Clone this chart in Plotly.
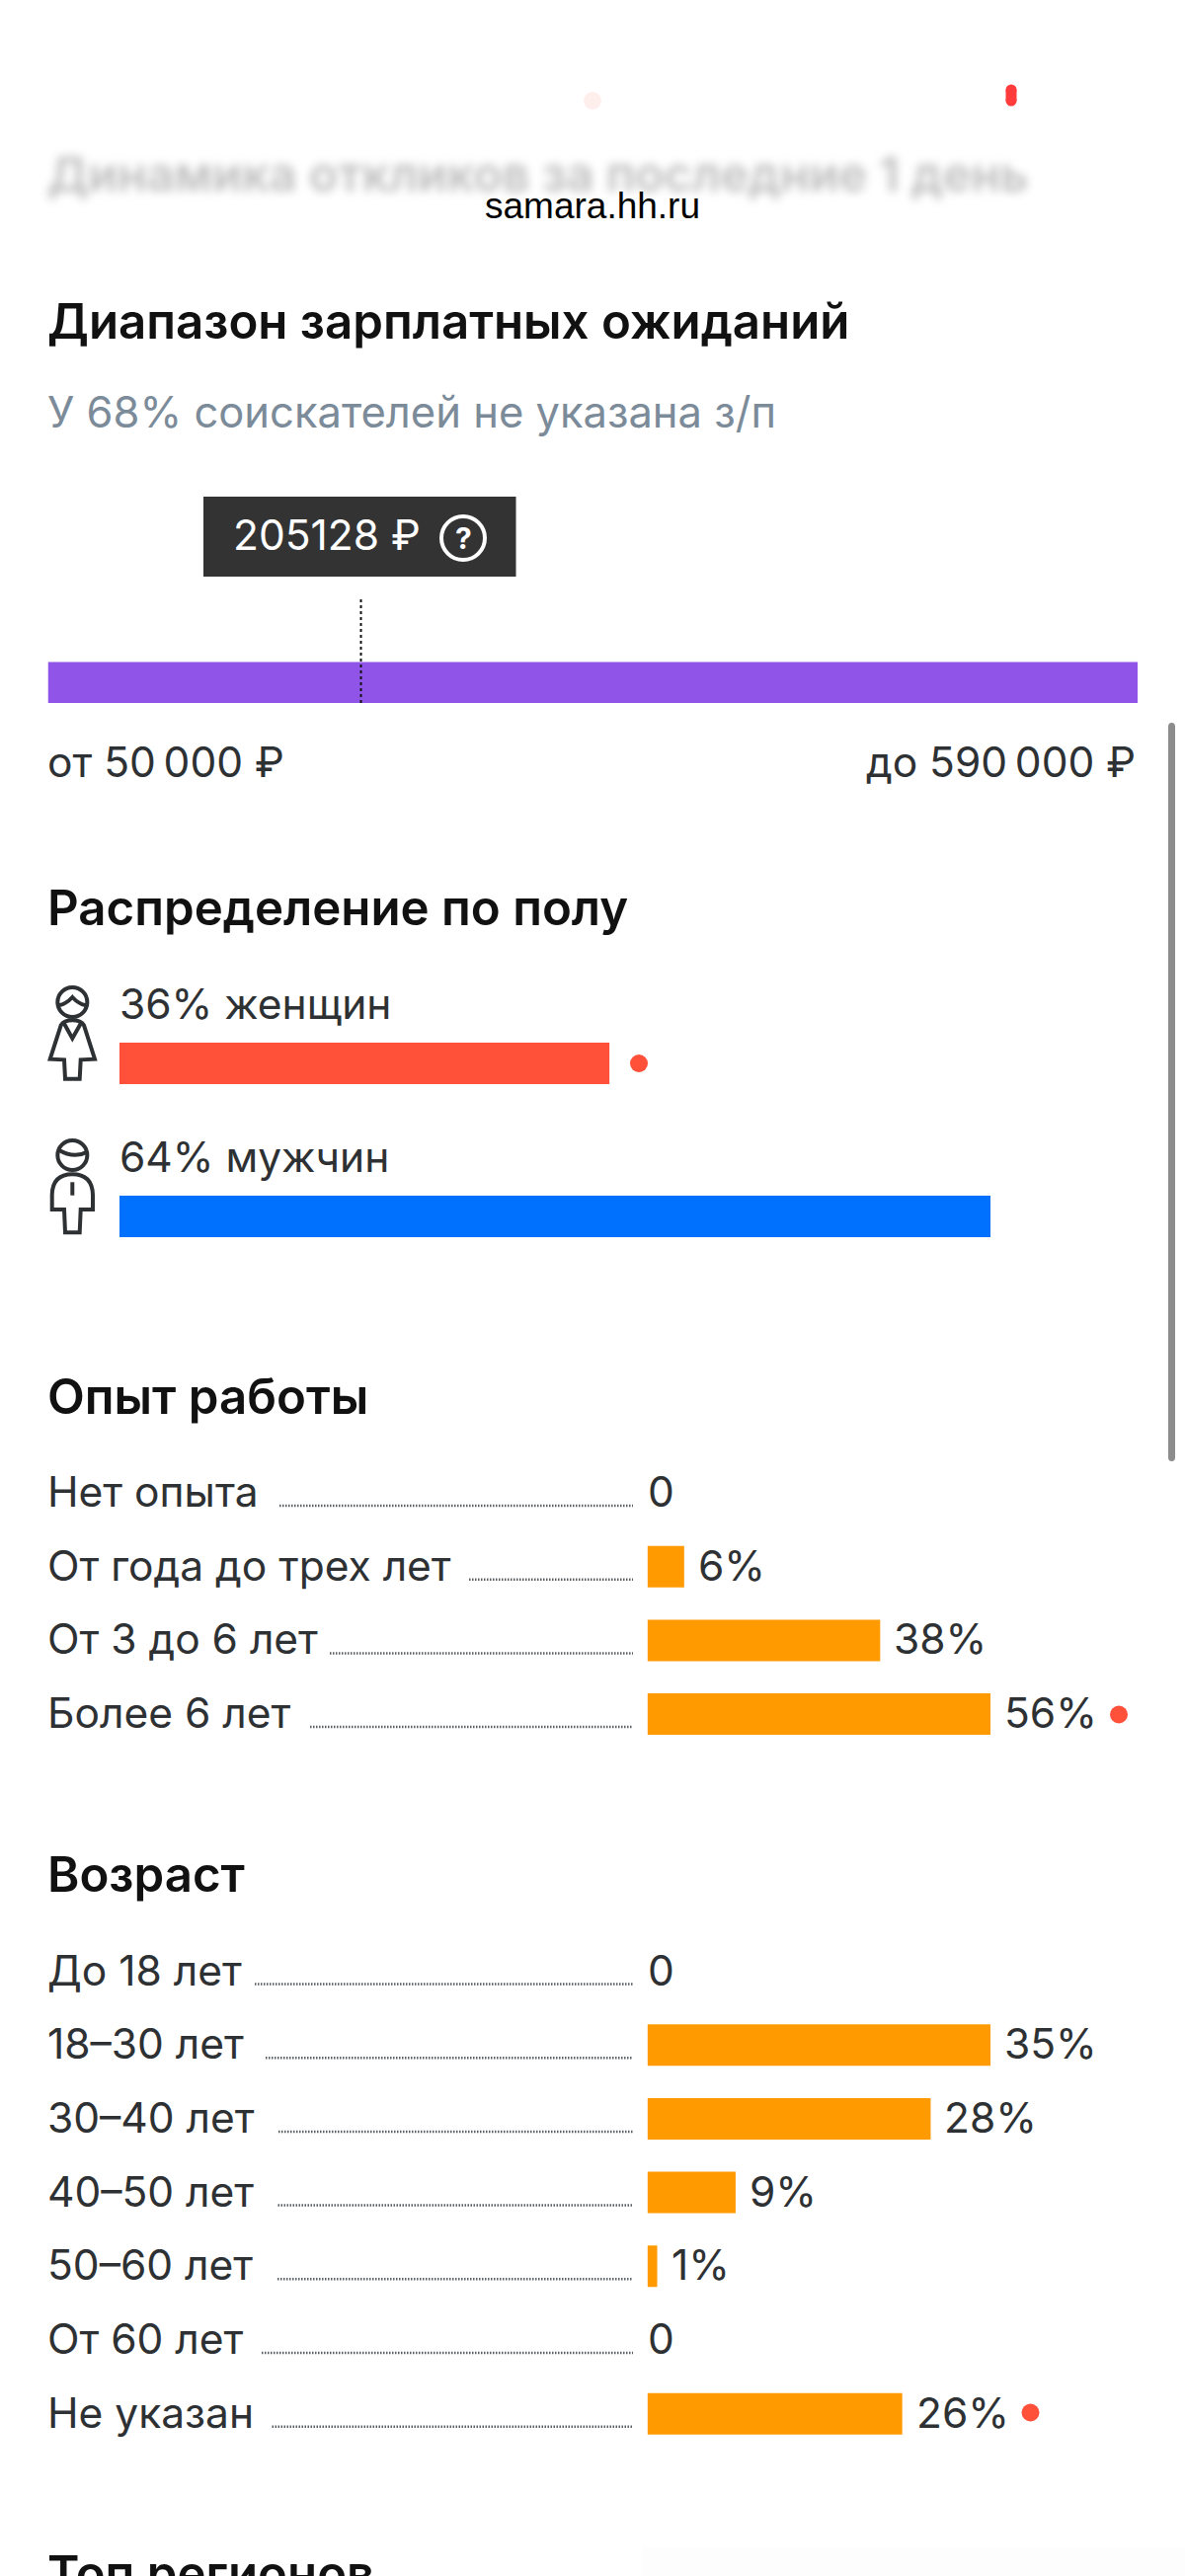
import plotly.graph_objects as go

# ---------- data ----------
salary_min = 50000
salary_max = 590000
salary_mean = 205128

gender_labels = ["36% женщин", "64% мужчин"]
gender_values = [36, 64]

exp_categories = ["Нет опыта", "От года до трех лет", "От 3 до 6 лет", "Более 6 лет"]
exp_values = [0, 6, 38, 56]
exp_value_labels = ["0", "6%", "38%", "56%"]

age_categories = ["До 18 лет", "18–30 лет", "30–40 лет", "40–50 лет", "50–60 лет", "От 60 лет", "Не указан"]
age_values = [0, 35, 28.9, 9, 1, 0, 26]
age_value_labels = ["0", "35%", "28%", "9%", "1%", "0", "26%"]

# ---------- style / layout ----------
W, H = 1200, 2609
FONT = "Inter"
INK = "#2E3133"
ORANGE = "#FF9A00"
RED = "#FF5039"
BLUE = "#0070FF"
PURPLE = "#9055E8"
LEFT = 47
TITLE_SIZE = 49.2
TITLE_WEIGHT = 600
BODY_SIZE = 42.5
ROW_H = 74.7
BAR_H = 42
BAR_START = 655.6
BAR_END = 1003
LEADER_END = 641

exp_leader_starts = [283, 475, 334, 314]
age_leader_starts = [258, 269, 282, 281.5, 281, 265, 275.5]


def dom_x(a, b):
    return [a / W, b / W]


def dom_y(top, bottom):
    return [1 - bottom / H, 1 - top / H]


fig = go.Figure()
ann = []
shapes = []


def text(x, y, s, size=BODY_SIZE, color=INK, weight=400, anchor="left", family=FONT, yanchor="middle"):
    ann.append(dict(x=x, y=y, xref="x", yref="y", text=s, showarrow=False, xanchor=anchor, yanchor=yanchor,
                    font=dict(family=family, size=size, color=color, weight=weight), borderpad=0))


def path(d, color=INK, width=4, fill=None):
    shapes.append(dict(type="path", xref="x", yref="y", path=d, line=dict(color=color, width=width),
                       fillcolor=fill or "rgba(0,0,0,0)"))


def dot(cx, cy, r, color=RED):
    shapes.append(dict(type="circle", xref="x", yref="y", x0=cx - r, x1=cx + r, y0=cy - r, y1=cy + r,
                       line=dict(width=0), fillcolor=color))


def rect(x0, y0, x1, y1, color):
    shapes.append(dict(type="rect", xref="x", yref="y", x0=x0, x1=x1, y0=y0, y1=y1,
                       line=dict(width=0), fillcolor=color, layer="below"))


# overlay page-pixel axes
layout_axes = dict(
    xaxis=dict(domain=[0, 1], range=[0, W], visible=False, fixedrange=True),
    yaxis=dict(domain=[0, 1], range=[H, 0], visible=False, fixedrange=True),
)
fig.add_trace(go.Scatter(x=[0], y=[0], mode="markers", marker=dict(opacity=0), xaxis="x", yaxis="y",
                         hoverinfo="skip", showlegend=False))

# ---------- salary range ----------
sal_top, sal_bar_top, sal_bot = 605, 670.5, 712
band = (sal_bot - sal_bar_top) / (sal_bot - sal_top)
fig.add_trace(go.Bar(x=[salary_max - salary_min], base=[salary_min], y=[band / 2], width=[band], orientation="h",
                     marker=dict(color=PURPLE, line=dict(width=0)), xaxis="x2", yaxis="y2", showlegend=False))
fig.add_trace(go.Scatter(x=[salary_mean, salary_mean], y=[0, 1], mode="lines",
                         line=dict(color="#111111", width=2, dash="3px,3px"), xaxis="x2", yaxis="y2",
                         showlegend=False))
layout_axes["xaxis2"] = dict(domain=dom_x(48.5, 1152), range=[salary_min, salary_max], visible=False,
                             fixedrange=True, anchor="y2")
layout_axes["yaxis2"] = dict(domain=dom_y(sal_top, sal_bot), range=[0, 1], visible=False, fixedrange=True,
                             anchor="x2")

# ---------- gender ----------
g_pitch = 155
g_centers = [1077, 1232]
fig.add_trace(go.Bar(x=gender_values, y=gender_labels, orientation="h",
                     marker=dict(color=[RED, BLUE], line=dict(width=0)), xaxis="x3", yaxis="y3", showlegend=False))
layout_axes["xaxis3"] = dict(domain=dom_x(121, BAR_END), range=[0, max(gender_values)], visible=False,
                             fixedrange=True, anchor="y3")
layout_axes["yaxis3"] = dict(domain=dom_y(g_centers[0] - g_pitch / 2, g_centers[1] + g_pitch / 2),
                             type="category", categoryorder="array", categoryarray=gender_labels,
                             range=[1.5, -0.5], visible=False, fixedrange=True, anchor="x3")


# ---------- category panels ----------
def panel(cats, vals, labels, first_center, xa, ya, leaders):
    n = len(cats)
    fig.add_trace(go.Bar(x=vals, y=cats, orientation="h", marker=dict(color=ORANGE, line=dict(width=0)),
                         xaxis=xa, yaxis=ya, showlegend=False))
    top = first_center - ROW_H / 2
    layout_axes["xaxis" + xa[1:]] = dict(domain=dom_x(BAR_START, BAR_END), range=[0, max(vals)], visible=False,
                                         fixedrange=True, anchor=ya)
    layout_axes["yaxis" + ya[1:]] = dict(domain=dom_y(top, top + n * ROW_H), type="category",
                                         categoryorder="array", categoryarray=cats, range=[n - 0.5, -0.5],
                                         visible=False, fixedrange=True, anchor=xa)
    for i, (c, v, lab) in enumerate(zip(cats, vals, labels)):
        cy = first_center + i * ROW_H
        text(LEFT, cy - 1.5, c)
        shapes.append(dict(type="line", xref="x", yref="y", x0=leaders[i], x1=LEADER_END, y0=cy + 13, y1=cy + 13,
                           line=dict(color="#5A5F63", width=2.5, dash="1.5px,1.5px")))
        ann.append(dict(x=v, y=c, xref=xa, yref=ya, text=lab, showarrow=False, xanchor="left",
                        yanchor="middle", xshift=12 if v else -2, yshift=1.5,
                        font=dict(family=FONT, size=BODY_SIZE, color=INK)))


panel(exp_categories, exp_values, exp_value_labels, 1512, "x4", "y4", exp_leader_starts)
panel(age_categories, age_values, age_value_labels, 1996.5, "x5", "y5", age_leader_starts)

# ---------- headings and texts ----------
text(LEFT, 176, "Динамика откликов за последние 1 день", size=48.5, color="#BDBDBD", weight=TITLE_WEIGHT)
text(600, 208, "samara.hh.ru", size=37, color="#000000", anchor="center", family="Liberation Sans")
text(LEFT, 325, "Диапазон зарплатных ожиданий", size=TITLE_SIZE, color="#111111", weight=TITLE_WEIGHT)
text(LEFT, 417, "У 68% соискателей не указана з/п", size=43.5, color="#7C8B99")
text(LEFT, 771, "от 50\u2009000 ₽")
text(1151, 771, "до 590\u2009000 ₽", anchor="right")
text(LEFT, 919, "Распределение по полу", size=TITLE_SIZE, color="#111111", weight=TITLE_WEIGHT)
text(120, 1016, gender_labels[0])
text(120, 1171, gender_labels[1])
text(LEFT, 1414, "Опыт работы", size=TITLE_SIZE, color="#111111", weight=TITLE_WEIGHT)
text(LEFT, 1898, "Возраст", size=TITLE_SIZE, color="#111111", weight=TITLE_WEIGHT)
text(LEFT, 2575, "Топ регионов", size=TITLE_SIZE, color="#111111", weight=TITLE_WEIGHT, yanchor="top")

# faint fog at the bottom edge
rect(650, 2580, 1200, 2609, "#FDFDFD")

# tooltip
rect(206, 503, 522.5, 584, "#333333")
text(235, 541, f"{salary_mean} ₽", size=BODY_SIZE, color="#FFFFFF")
shapes.append(dict(type="circle", xref="x", yref="y", x0=447, x1=491, y0=523, y1=567,
                   line=dict(color="#FFFFFF", width=4), fillcolor="rgba(0,0,0,0)"))
text(469, 545, "?", size=30, color="#FFFFFF", weight=700, anchor="center")

# status dots
dot(647, 1077, 9)
dot(1133, 1736.5, 9)
dot(1043.5, 2443.5, 9)
shapes.append(dict(type="rect", xref="x", yref="y", x0=1018.5, x1=1029.5, y0=90.5, y1=102.5, line=dict(width=0),
                   fillcolor="#FF3B3B"))
dot(1024, 91, 5.5, "#FF3B3B")
dot(1024, 102, 5.5, "#FF3B3B")
dot(600, 102, 9, "#FFEFEC")

# scrollbar
path("M1183 736 Q1183 732 1186.5 732 Q1190 732 1190 736 L1190 1476 Q1190 1480 1186.5 1480 Q1183 1480 1183 1476 Z",
     color="#8C8C8C", width=0, fill="#8C8C8C")


# person icons, drawn in a 3x crop space
def ix(x):
    return 20 + x / 3


def iy(y):
    return 970 + y / 3


def icon(cmds):
    out = []
    for c in cmds:
        if isinstance(c, str):
            out.append(c)
        else:
            out.append(f"{ix(c[0]):.1f} {iy(c[1]):.1f}")
    return " ".join(out)


def head(cy):
    shapes.append(dict(type="circle", xref="x", yref="y", x0=ix(115), x1=ix(205), y0=iy(cy - 45), y1=iy(cy + 45),
                       line=dict(color=INK, width=4), fillcolor="rgba(0,0,0,0)"))


head(135)
path(icon(["M", (118, 145), "Q", (142, 140), (160, 120), "Q", (178, 140), (202, 145)]))
path(icon(["M", (92, 308), "L", (125, 205), "Q", (135, 190), (160, 190), "Q", (185, 190), (195, 205), "L", (228, 308),
           "L", (185, 310), "L", (182, 368), "L", (138, 368), "L", (135, 310), "Z"]))
path(icon(["M", (135, 200), "L", (160, 245), "L", (185, 200)]))

head(600)
path(icon(["M", (116, 583), "Q", (165, 612), (204, 590)]))
path(icon(["M", (98, 765), "L", (98, 720), "Q", (100, 658), (160, 658), "Q", (220, 658), (222, 720), "L", (222, 765),
           "L", (185, 765), "L", (182, 835), "L", (138, 835), "L", (135, 765), "Z"]))
path(icon(["M", (160, 682), "L", (160, 722)]))

fig.update_layout(
    width=W, height=H, margin=dict(l=0, r=0, t=0, b=0, pad=0), paper_bgcolor="#FFFFFF", plot_bgcolor="rgba(0,0,0,0)",
    showlegend=False, bargap=1 - BAR_H / ROW_H, annotations=ann, shapes=shapes, font=dict(family=FONT),
    **layout_axes,
)
fig.update_traces(selector=dict(type="bar"), hoverinfo="skip")
fig.data[3].update(width=BAR_H / g_pitch)

post = """
document.body.style.margin='0';document.body.style.overflow='hidden';
document.querySelectorAll('.annotation').forEach(function(a){
  if(a.textContent.indexOf('Динамика')===0){a.style.filter='blur(5px)';}
});
"""
fig.write_html("out.html", config=dict(displayModeBar=False, staticPlot=True), post_script=post)
